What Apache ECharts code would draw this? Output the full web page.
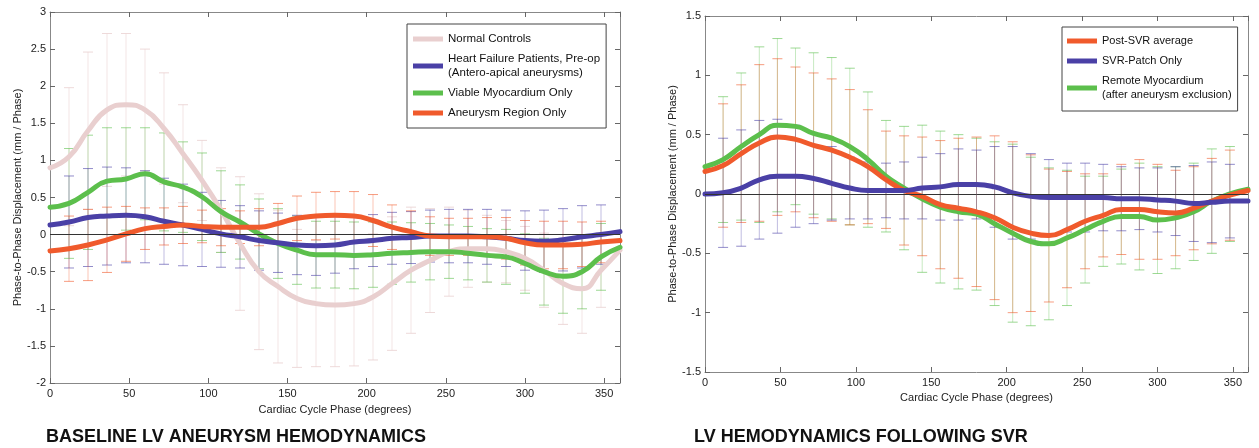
<!DOCTYPE html>
<html>
<head>
<meta charset="utf-8">
<script src="https://cdn.jsdelivr.net/npm/echarts@6/dist/echarts.min.js"></script>
<style>
  html, body { margin: 0; padding: 0; background: #fff; }
  #chart { width: 1259px; height: 448px; }
</style>
</head>
<body>
<div id="chart"></div>
<script>
// cardiac phase, degrees (lines)
var phase = [0, 12, 24, 36, 48, 60, 72, 84, 96, 108, 120, 132, 144, 156, 168, 180,
  192, 204, 216, 228, 240, 252, 264, 276, 288, 300, 312, 324, 336, 348, 360];
// phases with error bars
var barPhase = phase.slice(1, 30);

/* baseline panel */
var normalControls = [0.9, 1.05, 1.4, 1.68, 1.75, 1.68, 1.43, 1.09, 0.73, 0.33, -0.12, -0.5, -0.7, -0.86, -0.93, -0.95,
  -0.93, -0.84, -0.66, -0.48, -0.35, -0.23, -0.19, -0.19, -0.23, -0.32, -0.48, -0.66, -0.73, -0.48, -0.21];
var heartFailure = [0.13, 0.17, 0.23, 0.25, 0.26, 0.24, 0.18, 0.13, 0.07, 0.01, -0.03, -0.08, -0.11, -0.14, -0.15, -0.14,
  -0.1, -0.08, -0.05, -0.04, -0.02, -0.02, -0.02, -0.03, -0.05, -0.08, -0.09, -0.07, -0.03, 0.0, 0.04];
var viable = [0.37, 0.42, 0.57, 0.72, 0.75, 0.82, 0.71, 0.64, 0.51, 0.31, 0.17, 0.01, -0.12, -0.21, -0.27, -0.27,
  -0.28, -0.27, -0.25, -0.24, -0.23, -0.23, -0.25, -0.28, -0.3, -0.39, -0.5, -0.56, -0.5, -0.3, -0.17];
var aneurysm = [-0.22, -0.19, -0.14, -0.07, 0.01, 0.08, 0.11, 0.13, 0.11, 0.1, 0.1, 0.1, 0.15, 0.22, 0.25, 0.26,
  0.25, 0.19, 0.1, 0.04, -0.02, -0.03, -0.03, -0.03, -0.05, -0.11, -0.14, -0.14, -0.13, -0.1, -0.08];

var normalSd = [0.93, 1.06, 1.03, 0.96, 0.82, 0.75, 0.66, 0.54, 0.57, 0.9, 1.05, 1.03, 0.93, 0.85, 0.83,
  0.84, 0.85, 0.9, 0.85, 0.7, 0.6, 0.52, 0.45, 0.42, 0.43, 0.5, 0.55, 0.6, 0.5];
var heartFailureSd = [0.62, 0.66, 0.66, 0.64, 0.62, 0.58, 0.55, 0.5, 0.45, 0.42, 0.4, 0.4, 0.4, 0.4, 0.38,
  0.36, 0.35, 0.35, 0.35, 0.35, 0.36, 0.36, 0.37, 0.38, 0.4, 0.42, 0.42, 0.42, 0.4];
var viableSd = [0.74, 0.77, 0.72, 0.69, 0.62, 0.66, 0.61, 0.59, 0.55, 0.5, 0.47, 0.47, 0.46, 0.45, 0.45,
  0.45, 0.44, 0.42, 0.4, 0.38, 0.36, 0.36, 0.36, 0.37, 0.4, 0.45, 0.5, 0.5, 0.45];
var aneurysmSd = [0.44, 0.48, 0.44, 0.37, 0.28, 0.25, 0.25, 0.22, 0.25, 0.22, 0.25, 0.27, 0.3, 0.32, 0.32,
  0.33, 0.35, 0.3, 0.28, 0.26, 0.25, 0.25, 0.26, 0.28, 0.3, 0.32, 0.32, 0.3, 0.28];

/* post-SVR panel */
var postSvr = [0.19, 0.24, 0.34, 0.43, 0.48, 0.46, 0.41, 0.37, 0.31, 0.23, 0.12, 0.03, -0.02, -0.09, -0.12, -0.15,
  -0.2, -0.28, -0.33, -0.35, -0.3, -0.23, -0.18, -0.13, -0.13, -0.15, -0.16, -0.12, -0.06, -0.01, 0.03];
var patchOnly = [0.0, 0.01, 0.05, 0.12, 0.15, 0.15, 0.13, 0.09, 0.05, 0.03, 0.03, 0.03, 0.05, 0.06, 0.08, 0.08,
  0.06, 0.01, -0.02, -0.03, -0.03, -0.03, -0.03, -0.04, -0.04, -0.05, -0.06, -0.08, -0.07, -0.06, -0.06];
var remote = [0.23, 0.29, 0.4, 0.5, 0.58, 0.57, 0.51, 0.47, 0.4, 0.29, 0.15, 0.05, -0.04, -0.11, -0.15, -0.17,
  -0.25, -0.33, -0.4, -0.42, -0.37, -0.3, -0.23, -0.19, -0.19, -0.22, -0.2, -0.15, -0.06, 0.0, 0.04];

var postSvrSd = [0.52, 0.58, 0.66, 0.66, 0.61, 0.61, 0.6, 0.57, 0.48, 0.41, 0.46, 0.5, 0.54, 0.59, 0.63,
  0.69, 0.72, 0.66, 0.56, 0.49, 0.4, 0.35, 0.38, 0.42, 0.4, 0.36, 0.35, 0.36, 0.38];
var patchOnlySd = [0.46, 0.49, 0.5, 0.48, 0.43, 0.38, 0.31, 0.26, 0.24, 0.23, 0.24, 0.26, 0.28, 0.3, 0.29,
  0.34, 0.39, 0.36, 0.32, 0.29, 0.29, 0.28, 0.27, 0.26, 0.27, 0.29, 0.32, 0.34, 0.31];
var remoteSd = [0.53, 0.62, 0.74, 0.73, 0.66, 0.68, 0.68, 0.66, 0.57, 0.47, 0.52, 0.62, 0.64, 0.65, 0.64,
  0.69, 0.75, 0.71, 0.64, 0.57, 0.45, 0.38, 0.4, 0.45, 0.45, 0.43, 0.41, 0.44, 0.4];

var xTicks = [0, 50, 100, 150, 200, 250, 300, 350];

var PINK = '#e9cfcf', BLUE = '#4a40a6', GREEN = '#5cbf4c', RED = '#f05a2c';
var FONT = 'Liberation Sans';

function pairs(ys) {
  return phase.map(function (x, i) { return [x, ys[i]]; });
}

function bars(mean, sd) {
  return barPhase.map(function (x, i) {
    var m = mean[i + 1];
    return [x, m - sd[i], m + sd[i]];
  });
}

function lineSeries(name, color, ys, idx, zero) {
  var s = {
    name: name, type: 'line', xAxisIndex: idx, yAxisIndex: idx,
    data: pairs(ys), smooth: 0.5, showSymbol: false, z: 4,
    lineStyle: { color: color, width: 5, cap: 'round' },
    itemStyle: { color: color }
  };
  if (zero) {
    s.markLine = {
      silent: true, symbol: ['none', 'none'], label: { show: false },
      lineStyle: { color: '#333', width: 1, type: 'solid' },
      data: [{ yAxis: 0 }]
    };
  }
  return s;
}

function barSeries(color, mean, sd, idx, alpha) {
  return {
    type: 'custom', xAxisIndex: idx, yAxisIndex: idx, z: 2, silent: true,
    data: bars(mean, sd),
    encode: { x: 0, y: [1, 2] },
    renderItem: function (params, api) {
      var x = api.value(0);
      var lo = api.coord([x, api.value(1)]);
      var hi = api.coord([x, api.value(2)]);
      var st = { stroke: color, lineWidth: 1, opacity: alpha };
      var cap = { stroke: color, lineWidth: 1, opacity: Math.min(1, alpha + 0.25) };
      return {
        type: 'group',
        children: [
          { type: 'line', shape: { x1: lo[0], y1: lo[1], x2: hi[0], y2: hi[1] }, style: st },
          { type: 'line', shape: { x1: lo[0] - 5, y1: lo[1], x2: lo[0] + 5, y2: lo[1] }, style: cap },
          { type: 'line', shape: { x1: hi[0] - 5, y1: hi[1], x2: hi[0] + 5, y2: hi[1] }, style: cap }
        ]
      };
    }
  };
}

function xAx(grid, pos, gap) {
  var bottom = pos === 'bottom';
  return {
    type: 'value', gridIndex: grid, position: pos, min: 0, max: 360, interval: 50,
    name: bottom ? 'Cardiac Cycle Phase (degrees)' : '',
    nameLocation: 'middle', nameGap: gap,
    nameTextStyle: { fontSize: 11, color: '#222', fontFamily: FONT },
    axisLine: { show: true, onZero: false, lineStyle: { color: '#888' } },
    axisTick: { show: true, inside: true, length: 5, lineStyle: { color: '#666' } },
    axisLabel: {
      show: bottom, fontSize: 11, color: '#222', margin: 5, fontFamily: FONT,
      formatter: function (v) { return xTicks.indexOf(v) >= 0 ? String(v) : ''; }
    },
    splitLine: { show: false }
  };
}

function yAx(grid, pos, lo, hi) {
  var left = pos === 'left';
  return {
    type: 'value', gridIndex: grid, position: pos, min: lo, max: hi, interval: 0.5,
    name: left ? 'Phase-to-Phase Displacement (mm / Phase)' : '',
    nameLocation: 'middle', nameGap: 27,
    nameTextStyle: { fontSize: 11, color: '#222', fontFamily: FONT },
    axisLine: { show: true, onZero: false, lineStyle: { color: '#888' } },
    axisTick: { show: true, inside: true, length: 5, lineStyle: { color: '#666' } },
    axisLabel: { show: left, fontSize: 11, color: '#222', margin: 4, fontFamily: FONT },
    splitLine: { show: false }
  };
}

function legendBox(names, left, top, pad, size) {
  return {
    orient: 'vertical', left: left, top: top, data: names,
    borderColor: '#444', borderWidth: 1, backgroundColor: '#fff',
    padding: pad, itemGap: 6, itemWidth: 30, itemHeight: 5, icon: 'rect',
    textStyle: { fontSize: size, color: '#111', fontFamily: FONT, lineHeight: 14 }
  };
}

var chart = echarts.init(document.getElementById('chart'));
var N1 = 'Normal Controls';
var N2 = 'Heart Failure Patients, Pre-op\n(Antero-apical aneurysms)';
var N3 = 'Viable Myocardium Only';
var N4 = 'Aneurysm Region Only';
var M1 = 'Post-SVR average';
var M2 = 'SVR-Patch Only';
var M3 = 'Remote Myocardium\n(after aneurysm exclusion)';

option = {
  backgroundColor: '#fff',
  animation: false,
  title: [{
    text: 'BASELINE LV ANEURYSM HEMODYNAMICS', left: 46, top: 428, padding: 0,
    textStyle: { fontSize: 18, fontWeight: 'bold', color: '#111', fontFamily: FONT }
  }, {
    text: 'LV HEMODYNAMICS FOLLOWING SVR', left: 694, top: 428, padding: 0,
    textStyle: { fontSize: 18, fontWeight: 'bold', color: '#111', fontFamily: FONT }
  }],
  legend: [
    legendBox([N1, N2, N3, N4], 407, 24, [8, 6, 8, 6], 11.5),
    legendBox([M1, M2, M3], 1062, 27, [7, 6, 9, 5], 11)
  ],
  grid: [
    { left: 50, top: 12, width: 570, height: 371 },
    { left: 705, top: 16, width: 543, height: 356 }
  ],
  xAxis: [xAx(0, 'bottom', 21), xAx(0, 'top', 0), xAx(1, 'bottom', 17), xAx(1, 'top', 0)],
  yAxis: [yAx(0, 'left', -2, 3), yAx(0, 'right', -2, 3), yAx(1, 'left', -1.5, 1.5), yAx(1, 'right', -1.5, 1.5)],
  series: [
    barSeries(PINK, normalControls, normalSd, 0, 0.55),
    barSeries(GREEN, viable, viableSd, 0, 0.35),
    barSeries(BLUE, heartFailure, heartFailureSd, 0, 0.35),
    barSeries(RED, aneurysm, aneurysmSd, 0, 0.35),
    lineSeries(N1, PINK, normalControls, 0, true),
    lineSeries(N3, GREEN, viable, 0),
    lineSeries(N2, BLUE, heartFailure, 0),
    lineSeries(N4, RED, aneurysm, 0),

    barSeries(GREEN, remote, remoteSd, 2, 0.35),
    barSeries(RED, postSvr, postSvrSd, 2, 0.35),
    barSeries(BLUE, patchOnly, patchOnlySd, 2, 0.35),
    lineSeries(M3, GREEN, remote, 2, true),
    lineSeries(M1, RED, postSvr, 2),
    lineSeries(M2, BLUE, patchOnly, 2)
  ]
};
chart.setOption(option);
</script>
</body>
</html>
